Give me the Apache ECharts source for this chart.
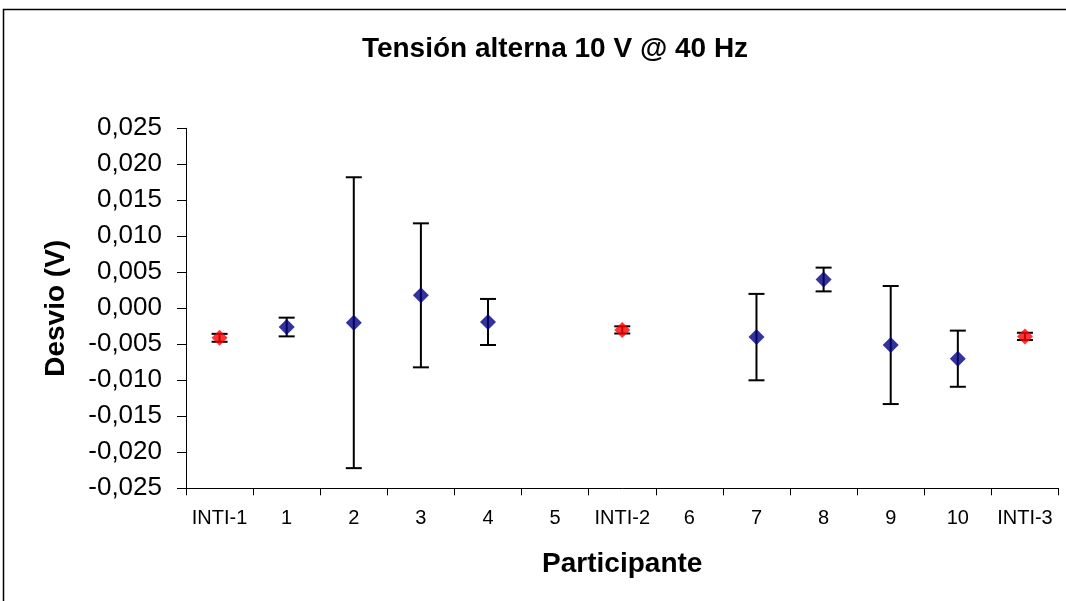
<!DOCTYPE html>
<html>
<head>
<meta charset="utf-8">
<script src="https://cdn.jsdelivr.net/npm/echarts@6/dist/echarts.min.js"></script>
<style>
html,body{margin:0;padding:0;background:#fff;}
#chart{width:1066px;height:601px;}
</style>
</head>
<body>
<div id="chart"></div>
<script>
// Data
const categories = ['INTI-1','1','2','3','4','5','INTI-2','6','7','8','9','10','INTI-3'];
const intiDev  = [-0.0041, null, null, null, null, null, -0.0030, null, null, null, null, null, -0.0039];
const intiUnc  = [0.00055, null, null, null, null, null, 0.0005, null, null, null, null, null, 0.0005];
const partDev  = [null, -0.0026, -0.0020, 0.0018, -0.0019, null, null, null, -0.0040, 0.0040, -0.0051, -0.0070, null];
const partUnc  = [null, 0.0013, 0.0202, 0.0100, 0.0032, null, null, null, 0.0060, 0.00165, 0.0082, 0.0039, null];
const yTicks = { min: -0.025, max: 0.025, interval: 0.005 };

const FONT = '"Liberation Sans", Arial, sans-serif';

function errData(dev, unc) {
  const out = [];
  dev.forEach((v, i) => {
    if (v !== null && unc[i] !== null) out.push([i, v - unc[i], v + unc[i]]);
  });
  return out;
}
function pointData(dev) {
  return dev.map((v, i) => v === null ? [i, '-'] : [i, v]);
}

function renderErr(params, api) {
  const x = api.value(0);
  const lo = api.coord([x, api.value(1)]);
  const hi = api.coord([x, api.value(2)]);
  const hw = 8;
  const style = { stroke: '#000', lineWidth: 2, fill: null };
  return {
    type: 'group',
    children: [
      { type: 'line', shape: { x1: hi[0], y1: hi[1], x2: lo[0], y2: lo[1] }, style },
      { type: 'line', shape: { x1: hi[0] - hw, y1: hi[1], x2: hi[0] + hw, y2: hi[1] }, style },
      { type: 'line', shape: { x1: lo[0] - hw, y1: lo[1], x2: lo[0] + hw, y2: lo[1] }, style }
    ]
  };
}

const chart = echarts.init(document.getElementById('chart'));
chart.setOption({
  animation: false,
  backgroundColor: '#fff',
  title: {
    text: 'Tensión alterna 10 V @ 40 Hz',
    left: 550, top: 30, textAlign: 'center',
    textStyle: { fontFamily: FONT, fontSize: 28, fontWeight: 'bold', color: '#000' }
  },
  graphic: [{
    type: 'rect', silent: true, z: -1,
    shape: { x: 3.5, y: 9.5, width: 1200, height: 800 },
    style: { fill: null, stroke: '#000', lineWidth: 1.5 }
  }],
  grid: { left: 186, right: 7.5, top: 128.3, bottom: 112.7, containLabel: false },
  xAxis: {
    type: 'category',
    data: categories,
    boundaryGap: true,
    name: 'Participante',
    nameLocation: 'middle',
    nameGap: 62,
    nameTextStyle: { fontFamily: FONT, fontSize: 28, fontWeight: 'bold', color: '#000' },
    axisLine: { onZero: false, lineStyle: { color: '#000', width: 1 } },
    axisTick: { show: true, length: 7, lineStyle: { color: '#000' } },
    axisLabel: { fontFamily: FONT, fontSize: 20, color: '#000', margin: 20, interval: 0 },
    splitLine: { show: false }
  },
  yAxis: {
    type: 'value',
    min: yTicks.min, max: yTicks.max, interval: yTicks.interval,
    name: 'Desvio (V)',
    nameLocation: 'middle',
    nameGap: 116,
    nameRotate: 90,
    nameTextStyle: { fontFamily: FONT, fontSize: 28, fontWeight: 'bold', color: '#000' },
    axisLine: { show: true, onZero: false, lineStyle: { color: '#000', width: 1 } },
    axisTick: { show: true, length: 9, lineStyle: { color: '#000' } },
    axisLabel: {
      fontFamily: FONT, fontSize: 26, color: '#000', margin: 24,
      formatter: v => (Math.abs(v) < 1e-9 ? 0 : v).toFixed(3).replace('.', ',')
    },
    splitLine: { show: false }
  },
  series: [
    {
      type: 'custom', name: 'errInti', renderItem: renderErr,
      data: errData(intiDev, intiUnc), z: 2,
      encode: { x: 0, y: [1, 2] }
    },
    {
      type: 'custom', name: 'errPart', renderItem: renderErr,
      data: errData(partDev, partUnc), z: 2,
      encode: { x: 0, y: [1, 2] }
    },
    {
      type: 'scatter', name: 'INTI', data: pointData(intiDev), z: 5,
      symbol: 'diamond', symbolSize: [16, 16],
      itemStyle: { color: '#FF0000' }
    },
    {
      type: 'scatter', name: 'Participantes', data: pointData(partDev), z: 5,
      symbol: 'diamond', symbolSize: [16, 16],
      itemStyle: { color: '#000080' }
    }
  ]
});
</script>
</body>
</html>
